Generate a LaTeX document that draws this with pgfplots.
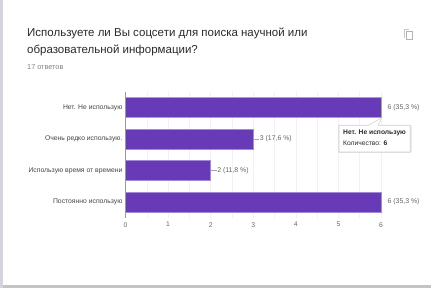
\documentclass[border=0pt]{standalone}
\usepackage{pgfplots}
\usepackage{fontspec}
\setmainfont{Liberation Sans}
\pgfplotsset{compat=1.18}
\definecolor{barp}{HTML}{673AB7}
\definecolor{txt}{HTML}{2A2A2A}
\definecolor{lab}{HTML}{444444}
\definecolor{tick}{HTML}{666666}
\definecolor{gridc}{HTML}{F2F2F2}
\definecolor{strip}{HTML}{D6D2DE}
\definecolor{shad}{HTML}{C4C4C4}
\begin{document}
\begin{tikzpicture}[x=1pt,y=1pt]
\fill[white] (0,0) rectangle (431,288);
\fill[strip] (0,0) rectangle (3,288);
\fill[shad] (3,0) rectangle (431,3);
\begin{axis}[
  at={(125.5pt,70.25pt)}, anchor=south west,
  scale only axis, width=255.5pt, height=126pt,
  xmin=0, xmax=6, ymin=-0.5, ymax=3.5, y dir=reverse,
  axis line style={draw=none},
  xtick={0,1,2,3,4,5,6},
  minor xtick={0.5,1.5,2.5,3.5,4.5,5.5},
  xmajorgrids, xminorgrids,
  grid style={gridc,line width=0.5pt},
  minor grid style={gridc,line width=0.5pt},
  ytick={0,1,2,3},
  yticklabels={Нет. Не использую,Очень редко использую.,Использую время от времени,Постоянно использую},
  tick style={draw=none},
  tick label style={font=\fontsize{6.8}{8}\selectfont, /pgf/number format/assume math mode=true},
  yticklabel style={text=lab, xshift=4.7pt},
  xticklabel style={text=tick, yshift=-1pt},
  clip=false,
  xbar, bar width=20pt, bar shift=0pt,
]
\addplot[draw=gray!70!white, line width=0.7pt, fill=barp] coordinates {(6,0)};
\addplot[draw=barp!60!white, line width=0.5pt, fill=barp] coordinates {(3,1)};
\addplot[draw=barp!60!white, line width=0.5pt, fill=barp] coordinates {(2,2)};
\addplot[draw=barp!60!white, line width=0.2pt, fill=barp] coordinates {(6,3)};
\draw[gray!70!white, line width=0.5pt] (axis cs:3,1)--(axis cs:3.14,1);
\draw[gray!70!white, line width=0.5pt] (axis cs:2,2)--(axis cs:2.14,2);
\draw[gray!80!white, line width=0.6pt] (axis cs:0,-0.5)--(axis cs:0,3.5);
\path[font=\fontsize{6.9}{8}\selectfont, text=tick, inner sep=0pt]
  (axis cs:6,0) node[anchor=west,xshift=6.5pt]{6 (35,3 \%)}
  (axis cs:3,1) node[anchor=west,xshift=6.5pt]{3 (17,6 \%)}
  (axis cs:2,2) node[anchor=west,xshift=6.5pt]{2 (11,8 \%)}
  (axis cs:6,3) node[anchor=west,xshift=6.5pt]{6 (35,3 \%)};
\end{axis}
% tooltip
\fill[gray!25,rounded corners=1pt] (338,135) rectangle (411.5,163);
\path[fill=white,draw=gray!35,line width=0.5pt]
  (339,136) -- (339,162.5) -- (368,162.5) -- (381.5,170) -- (378,162.5) -- (410,162.5) -- (410,136) -- cycle;
\node[anchor=west,font=\bfseries\fontsize{6.7}{8}\selectfont,text=txt,inner sep=0pt] at (343,155) {Нет. Не использую};
\node[anchor=west,font=\fontsize{6.7}{8}\selectfont,text=txt,inner sep=0pt] at (343,145) {Количество: \textbf{6}};
% header
\node[anchor=west,font=\fontsize{11.5}{14}\selectfont,text=txt,inner sep=0pt] at (27,254.4) {Используете ли Вы соцсети для поиска научной или};
\node[anchor=west,font=\fontsize{11.5}{14}\selectfont,text=txt,inner sep=0pt] at (27,237.8) {образовательной информации?};
\node[anchor=west,font=\fontsize{7.3}{8}\selectfont,text=gray,inner sep=0pt] at (27,221) {17 ответов};
% copy icon
\draw[gray!45,line width=0.6pt] (404,250) -- (404,259) -- (409,259);
\draw[gray!60,line width=0.7pt] (406,248.5) rectangle (412,257);
\end{tikzpicture}
\end{document}
